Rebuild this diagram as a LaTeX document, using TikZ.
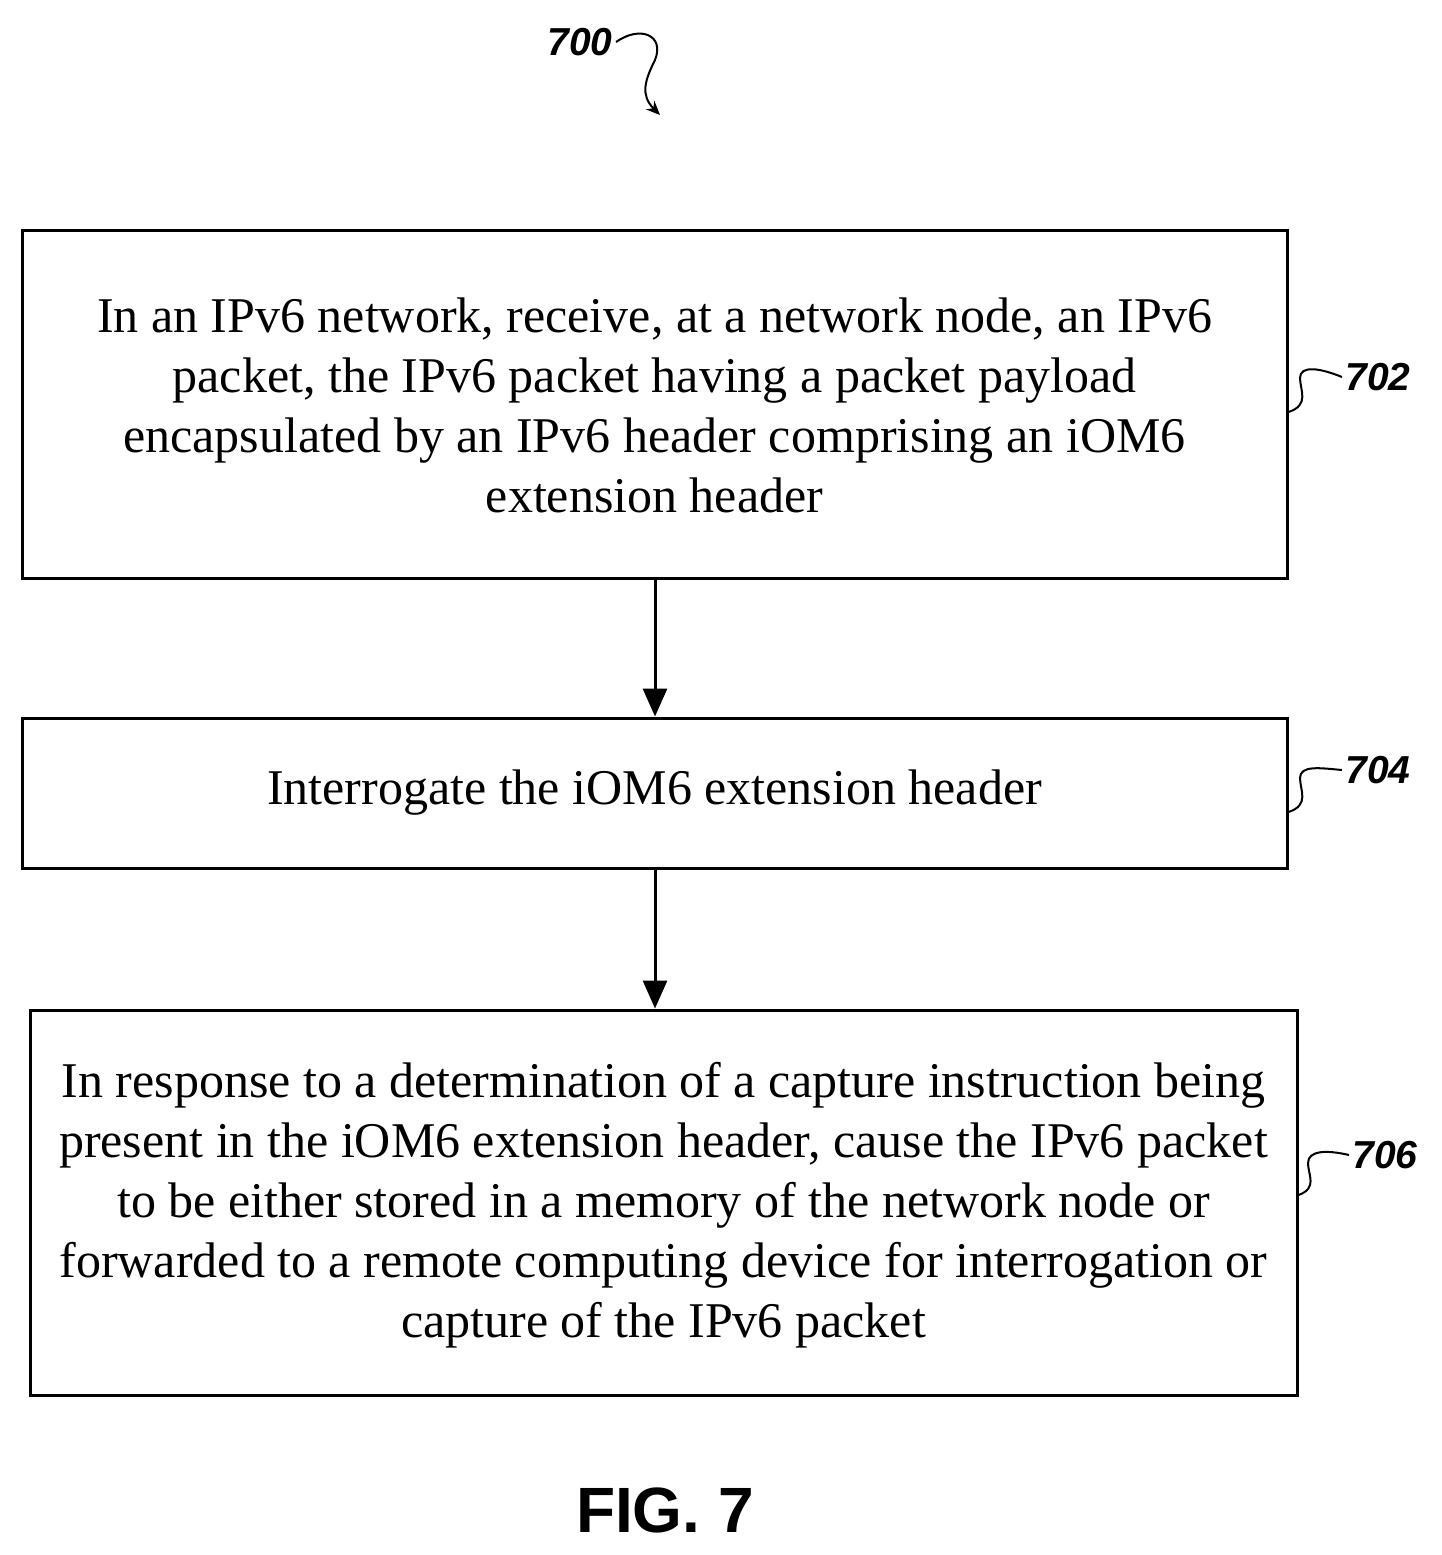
\documentclass[tikz,border=0pt]{standalone}
\usepackage{fontspec}
\setmainfont{Liberation Serif}
\setsansfont{Liberation Sans}
\usetikzlibrary{arrows.meta}
\begin{document}
\begin{tikzpicture}[x=1pt,y=-1pt,
  box/.style={draw,line width=3pt,inner sep=0pt},
  txt/.style={align=center,font=\fontsize{50}{60}\selectfont},
  lab/.style={font=\sffamily\bfseries\itshape\fontsize{39}{40}\selectfont},
  arr/.style={line width=3pt,-{Triangle[length=28pt,width=24pt]}},
  sq/.style={line width=2pt}]
\useasboundingbox (0,0) rectangle (1442,1555);
\node[box,minimum width=1265pt,minimum height=348pt] (b1) at (654.5,404) {};
\node[txt] (t1) at (654.5,405) {In an IPv6 network, receive, at a network node, an IPv6\\packet, the IPv6 packet having a packet payload\\encapsulated by an IPv6 header comprising an iOM6\\extension header};
\node[box,minimum width=1265pt,minimum height=150pt] (b2) at (654.5,793) {};
\node[txt] (t2) at (654.5,793) {Interrogate the iOM6 extension header};
\node[box,minimum width=1267pt,minimum height=385pt] (b3) at (663.5,1202.5) {};
\node[txt] (t3) at (663.5,1205) {In response to a determination of a capture instruction being\\present in the iOM6 extension header, cause the IPv6 packet\\to be either stored in a memory of the network node or\\forwarded to a remote computing device for interrogation or\\capture of the IPv6 packet};
\draw[arr] (b1.south -| 655,0) -- (b2.north -| 655,0);
\draw[arr] (b2.south -| 655,0) -- (b3.north -| 655,0);
\node[lab] (l702) at (1378,377) {702};
\node[lab] (l704) at (1378,770) {704};
\node[lab] (l706) at (1385,1155) {706};
\draw[sq] (b1.east |- 0,412) .. controls (1310,405) and (1300,390) .. (1300,378) .. controls (1300,365) and (1320,368) .. (l702.west);
\draw[sq] (b2.east |- 0,812) .. controls (1310,805) and (1300,790) .. (1300,778) .. controls (1300,765) and (1320,768) .. (l704.west);
\draw[sq] (b3.east |- 0,1195) .. controls (1318,1188) and (1308,1175) .. (1308,1163) .. controls (1308,1150) and (1328,1150) .. (l706.west);
\node[lab] (l700) at (580,42) {700};
\coordinate (e700) at (660,115);
\draw[sq,-{Stealth[length=14pt,width=12pt]}] (l700.east) .. controls (640,25) and (665,35) .. (655,60) .. controls (645,80) and (640,95) .. (e700);
\node[font=\sffamily\bfseries\fontsize{64}{70}\selectfont] (fig) at (665,1510) {FIG. 7};
\end{tikzpicture}
\end{document}
